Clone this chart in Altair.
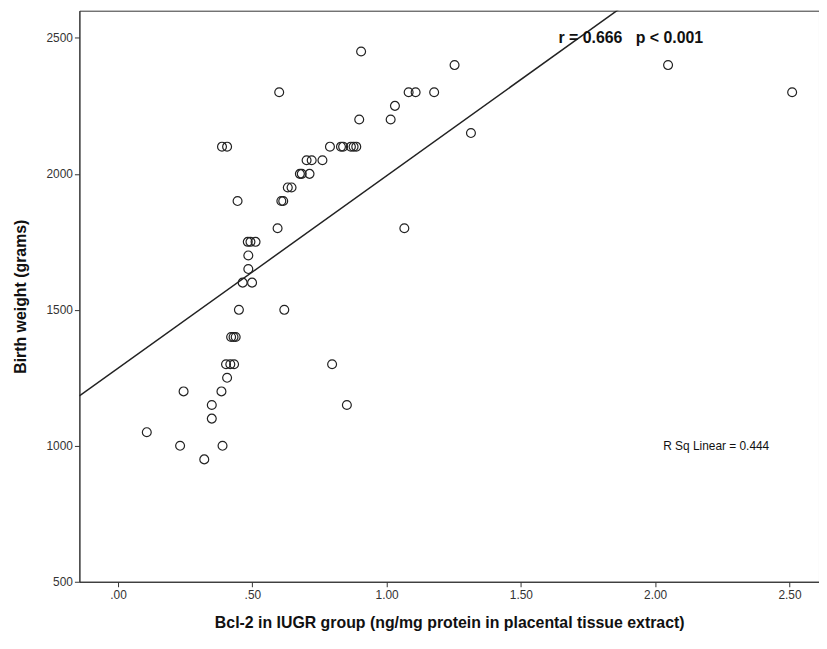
import altair as alt
import pandas as pd

bcl2 = [0.905, 1.253, 2.048, 0.600, 1.082, 1.108, 1.177, 2.510, 1.031, 0.898,
        1.015, 1.314, 0.387, 0.406, 0.789, 0.830, 0.838, 0.867, 0.877, 0.887,
        0.702, 0.721, 0.761, 0.677, 0.684, 0.713, 0.632, 0.646, 0.445, 0.608,
        0.615, 0.594, 1.066, 0.483, 0.493, 0.512, 0.485, 0.485, 0.464, 0.499,
        0.450, 0.619, 0.421, 0.430, 0.438, 0.402, 0.418, 0.432, 0.797, 0.406,
        0.244, 0.385, 0.349, 0.852, 0.349, 0.107, 0.231, 0.389, 0.321]
weight = [2450, 2400, 2400, 2300, 2300, 2300, 2300, 2300, 2250, 2200,
          2200, 2150, 2100, 2100, 2100, 2100, 2100, 2100, 2100, 2100,
          2050, 2050, 2050, 2000, 2000, 2000, 1950, 1950, 1900, 1900,
          1900, 1800, 1800, 1750, 1750, 1750, 1700, 1650, 1600, 1600,
          1500, 1500, 1400, 1400, 1400, 1300, 1300, 1300, 1300, 1250,
          1200, 1200, 1150, 1150, 1100, 1050, 1000, 1000, 950]

x_ticks = [0.0, 0.5, 1.0, 1.5, 2.0, 2.5]
y_ticks = [500, 1000, 1500, 2000, 2500]
x_domain = [-0.144, 2.61]
y_domain = [500, 2600]

df = pd.DataFrame({"x": bcl2, "y": weight})
FONT = "Liberation Sans"
NB = "\u00a0"

xenc = alt.X("x:Q", scale=alt.Scale(domain=x_domain, nice=False, zero=False),
             axis=alt.Axis(values=x_ticks, title="Bcl-2 in IUGR group (ng/mg protein in placental tissue extract)",
                           labelExpr="datum.value < 1 ? slice(format(datum.value, '.2f'), 1) : format(datum.value, '.2f')",
                           grid=False, tickSize=5, labelPadding=3, titlePadding=14,
                           labelFontSize=12, titleFontSize=16, titleFontWeight="bold",
                           domainColor="#333", tickColor="#333", labelColor="#333",
                           titleColor="#111", labelFont=FONT, titleFont=FONT))
yenc = alt.Y("y:Q", scale=alt.Scale(domain=y_domain, nice=False, zero=False),
             axis=alt.Axis(values=y_ticks, title="Birth weight (grams)", format="d",
                           grid=False, tickSize=5, labelPadding=2, titlePadding=18,
                           labelFontSize=12, titleFontSize=16, titleFontWeight="bold",
                           domainColor="#333", tickColor="#333", labelColor="#333",
                           titleColor="#111", labelFont=FONT, titleFont=FONT))

points = alt.Chart(df).mark_point(shape="circle", filled=False, size=80, strokeWidth=1.2,
                                  color="#222", opacity=1).encode(x=xenc, y=yenc)

line = alt.Chart(df).transform_regression("x", "y", extent=x_domain).mark_line(
    color="#222", strokeWidth=1.5, clip=True).encode(x="x:Q", y="y:Q")

ann = pd.DataFrame({"x": [1.64], "y": [2500], "t": ["r = 0.666" + NB * 3 + "p < 0.001"]})
txt1 = alt.Chart(ann).mark_text(align="left", baseline="middle", fontSize=16, fontWeight="bold",
                                font=FONT, color="#111").encode(x="x:Q", y="y:Q", text="t:N")
ann2 = pd.DataFrame({"x": [2.03], "y": [1000], "t": ["R Sq Linear = 0.444"]})
txt2 = alt.Chart(ann2).mark_text(align="left", baseline="middle", fontSize=12,
                                 font=FONT, color="#111").encode(x="x:Q", y="y:Q", text="t:N")

chart = alt.layer(points, line, txt1, txt2).properties(
    width=746, height=576,
    autosize=alt.AutoSizeParams(type="none"),
    padding={"left": 72, "top": 0, "right": 0, "bottom": 54},
).configure_view(stroke="#333", strokeWidth=1)

chart.save("out.html", embed_options={"renderer": "svg", "actions": False})
